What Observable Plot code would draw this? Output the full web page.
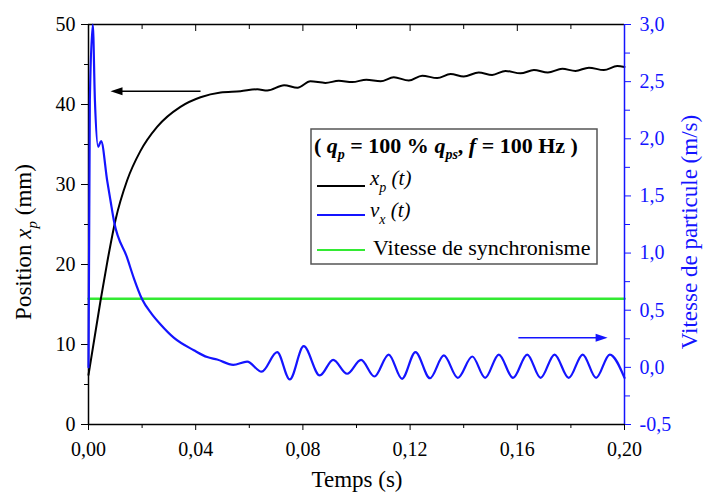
<!DOCTYPE html>
<html>
<head>
<meta charset="utf-8">
<script src="https://cdn.jsdelivr.net/npm/d3@7"></script>
<script src="https://cdn.jsdelivr.net/npm/@observablehq/plot@0.6"></script>
<style>
  html, body { margin: 0; padding: 0; background: white; }
  #chart { width: 704px; height: 497px; }
</style>
</head>
<body>
<div id="chart"></div>
<script>
// ---------- data ----------
const timeXp = [0, 0.0045, 0.007, 0.0101, 0.0144, 0.0194, 0.0256, 0.0343, 0.0418, 0.0493, 0.0567, 0.063, 0.0667,
  0.073, 0.078, 0.0828, 0.0884, 0.0934, 0.0984, 0.1037, 0.109, 0.1139, 0.1195, 0.1245, 0.1301, 0.1351, 0.14,
  0.1456, 0.1506, 0.1556, 0.1612, 0.1662, 0.1714, 0.1768, 0.1817, 0.1867, 0.1923, 0.1973, 0.2];
const xpValues = [6.2, 15.5, 20.3, 25.6, 30.5, 34.2, 37.2, 39.7, 40.9, 41.5, 41.66, 41.9, 41.75,
  42.4, 42.1, 42.9, 42.7, 42.96, 42.8, 43.1, 42.9, 43.4, 43.0, 43.6, 43.3, 43.8, 43.5,
  44.0, 43.7, 44.2, 43.9, 44.3, 44.0, 44.46, 44.2, 44.6, 44.3, 44.8, 44.7];

const timeVx = [0, 0.0005, 0.0016, 0.0024, 0.0036, 0.0047, 0.007, 0.0082, 0.0095, 0.0144, 0.017, 0.02, 0.0235,
  0.0269, 0.0318, 0.0393, 0.0443, 0.048, 0.054, 0.0592, 0.0646, 0.0704, 0.0751, 0.0803, 0.0863, 0.0913, 0.0965, 0.1017,
  0.1067, 0.112, 0.117, 0.122, 0.1274, 0.1326, 0.1378, 0.1432, 0.148, 0.1531, 0.1584, 0.1637, 0.1687, 0.1739,
  0.1792, 0.1844, 0.1894, 0.1945, 0.2];
const vxValues = [0.0, 2.33, 3.0, 2.33, 1.93, 1.98, 1.63, 1.46, 1.28, 0.96, 0.775, 0.596, 0.47,
  0.375, 0.26, 0.15, 0.09, 0.069, 0.022, 0.05, -0.038, 0.133, -0.106, 0.185, -0.071, 0.066, -0.056, 0.066,
  -0.08, 0.112, -0.1, 0.133, -0.095, 0.104, -0.092, 0.095, -0.092, 0.112, -0.092, 0.112, -0.092, 0.112,
  -0.092, 0.112, -0.092, 0.112, -0.092];

const syncSpeed = 0.6; // m/s

const xTicks = [0, 0.04, 0.08, 0.12, 0.16, 0.20];
const xMinorTicks = [0.02, 0.06, 0.10, 0.14, 0.18];
const yTicks = [0, 10, 20, 30, 40, 50];
const yMinorTicks = [5, 15, 25, 35, 45];
const vTicks = [-0.5, 0, 0.5, 1.0, 1.5, 2.0, 2.5, 3.0];
const vMinorTicks = [-0.25, 0.25, 0.75, 1.25, 1.75, 2.25, 2.75];

// annotation arrows (data units)
const leftArrow = [{t1: 0.0418, t2: 0.0082, y: 41.66}];
const rightArrow = [{t1: 0.1604, t2: 0.1937, v: 0.258}];

// ---------- scales helpers ----------
const xDomain = [0, 0.2];
const yDomain = [0, 50];
const vDomain = [-0.5, 3.0];
const toMM = v => yDomain[0] + (v - vDomain[0]) * (yDomain[1] - yDomain[0]) / (vDomain[1] - vDomain[0]);
const toV = y => vDomain[0] + (y - yDomain[0]) * (vDomain[1] - vDomain[0]) / (yDomain[1] - yDomain[0]);

const loc = d3.formatLocale({decimal: ",", thousands: " ", grouping: [3], currency: ["", ""], minus: "-"});
const f2 = loc.format(".2f");
const f1 = loc.format(".1f");

const BLUE = "#1414ff";
const GREEN = "#33ea33";
const SERIF = "'Liberation Serif', 'Times New Roman', Times, serif";

const xpData = timeXp.map((t, i) => ({t, y: xpValues[i]}));
const vxData = timeVx.map((t, i) => ({t, y: toMM(vxValues[i])}));
const syncData = xDomain.map(t => ({t, y: toMM(syncSpeed)}));

const leftHead = {draw(ctx) { ctx.moveTo(0, 0); ctx.lineTo(12, -4); ctx.lineTo(12, 4); ctx.closePath(); }};
const rightHead = {draw(ctx) { ctx.moveTo(0, 0); ctx.lineTo(-12, -4); ctx.lineTo(-12, 4); ctx.closePath(); }};

const chart = Plot.plot({
  width: 704,
  height: 497,
  marginLeft: 88,
  marginRight: 80,
  marginTop: 24,
  marginBottom: 73,
  style: {fontFamily: SERIF, fontSize: "20px", color: "black", background: "white", overflow: "visible"},
  x: {domain: xDomain},
  y: {domain: yDomain},
  marks: [
    // axes
    Plot.axisX({ticks: xTicks, tickSize: 6, tickPadding: 11, tickFormat: f2, label: null, fontSize: 20}),
    Plot.axisX({ticks: xMinorTicks, tickSize: 4, tickFormat: () => "", label: null}),
    Plot.axisX({anchor: "top", ticks: xTicks, tickSize: -6, tickFormat: () => "", label: null}),
    Plot.axisX({anchor: "top", ticks: xMinorTicks, tickSize: -4, tickFormat: () => "", label: null}),
    Plot.axisY({ticks: yTicks, tickSize: 7, tickPadding: 6, tickFormat: d => String(d), label: null, fontSize: 20}),
    Plot.axisY({ticks: yMinorTicks, tickSize: 4, tickFormat: () => "", label: null}),
    Plot.axisY({anchor: "right", ticks: vTicks.map(toMM), tickSize: 6, tickPadding: 9,
      tickFormat: d => f1(toV(d)), color: BLUE, label: null, fontSize: 20}),
    Plot.axisY({anchor: "right", ticks: vMinorTicks.map(toMM), tickSize: 5, tickFormat: () => "",
      color: BLUE, label: null}),
    // frame
    Plot.ruleY([yDomain[1]], {stroke: "black", strokeWidth: 1.5}),
    Plot.ruleY([yDomain[0]], {stroke: "black", strokeWidth: 1.5}),
    Plot.ruleX([xDomain[0]], {stroke: "black", strokeWidth: 1.5}),
    // curves
    Plot.line(syncData, {x: "t", y: "y", stroke: GREEN, strokeWidth: 2.6}),
    Plot.line(xpData, {x: "t", y: "y", curve: "monotone-x", stroke: "black", strokeWidth: 2}),
    Plot.line(vxData, {x: "t", y: "y", curve: "monotone-x", stroke: BLUE, strokeWidth: 2.2}),
    Plot.ruleX([xDomain[1]], {stroke: BLUE, strokeWidth: 1.5}),
    // arrows
    Plot.link(leftArrow, {x1: "t1", x2: d => d.t2 + 0.002, y1: "y", y2: "y", stroke: "black", strokeWidth: 1.5}),
    Plot.dot(leftArrow, {x: "t2", y: "y", symbol: leftHead, fill: "black", stroke: "none", r: 5}),
    Plot.link(rightArrow, {x1: "t1", x2: d => d.t2 - 0.002, y1: d => toMM(d.v), y2: d => toMM(d.v), stroke: BLUE, strokeWidth: 1.5}),
    Plot.dot(rightArrow, {x: "t2", y: d => toMM(d.v), symbol: rightHead, fill: BLUE, stroke: "none", r: 5})
  ]
});

document.getElementById("chart").appendChild(chart);

// ---------- titles & legend (rich text) ----------
const svg = d3.select(chart);

// bottom title
svg.append("text")
  .attr("x", 357).attr("y", 487)
  .attr("text-anchor", "middle")
  .attr("font-family", SERIF).attr("font-size", 23).attr("fill", "black")
  .text("Temps (s)");

// left title
const lt = svg.append("text")
  .attr("transform", "translate(31,242) rotate(-90)")
  .attr("text-anchor", "middle")
  .attr("font-family", SERIF).attr("font-size", 23).attr("fill", "black");
lt.append("tspan").text("Position ");
lt.append("tspan").attr("font-style", "italic").text("x");
lt.append("tspan").attr("font-style", "italic").attr("font-size", 15).attr("dy", 6).text("p");
lt.append("tspan").attr("dy", -6).text(" (mm)");

// right title
svg.append("text")
  .attr("transform", "translate(697,232) rotate(-90)")
  .attr("text-anchor", "middle")
  .attr("font-family", SERIF).attr("font-size", 23).attr("fill", BLUE)
  .text("Vitesse de particule (m/s)");

// legend
const lg = svg.append("g").attr("font-family", SERIF).attr("text-anchor", "start");
lg.append("rect")
  .attr("x", 311).attr("y", 129).attr("width", 286).attr("height", 135)
  .attr("fill", "white").attr("stroke", "#555").attr("stroke-width", 1.5);

const tt = lg.append("text").attr("x", 314).attr("y", 153).attr("text-anchor", "start")
  .attr("font-size", 22).attr("font-weight", "bold").attr("fill", "black");
tt.append("tspan").text("( ");
tt.append("tspan").attr("font-style", "italic").text("q");
tt.append("tspan").attr("font-style", "italic").attr("font-size", 14).attr("dy", 6).text("p");
tt.append("tspan").attr("dy", -6).text(" = 100 % ");
tt.append("tspan").attr("font-style", "italic").text("q");
tt.append("tspan").attr("font-style", "italic").attr("font-size", 14).attr("dy", 6).text("ps");
tt.append("tspan").attr("dy", -6).text(", ");
tt.append("tspan").attr("font-style", "italic").text("f");
tt.append("tspan").text(" = 100 Hz )");

const items = [
  {color: "black", ly: 186, ty: 185, main: "x", sub: "p"},
  {color: BLUE, ly: 215, ty: 217, main: "v", sub: "x"},
  {color: GREEN, ly: 250, ty: 255, plain: "Vitesse de synchronisme"}
];
items.forEach(it => {
  lg.append("line").attr("x1", 317).attr("x2", 365).attr("y1", it.ly).attr("y2", it.ly)
    .attr("stroke", it.color).attr("stroke-width", 2);
  const t = lg.append("text").attr("x", 370).attr("y", it.ty).attr("text-anchor", "start")
    .attr("fill", "black").attr("font-size", 21);
  if (it.plain) {
    t.attr("x", 373).attr("font-size", 22).text(it.plain);
  } else {
    t.append("tspan").attr("font-style", "italic").text(it.main);
    t.append("tspan").attr("font-style", "italic").attr("font-size", 14).attr("dy", 7).text(it.sub);
    t.append("tspan").attr("font-style", "italic").attr("dy", -7).text(" (t)");
  }
});
</script>
</body>
</html>
